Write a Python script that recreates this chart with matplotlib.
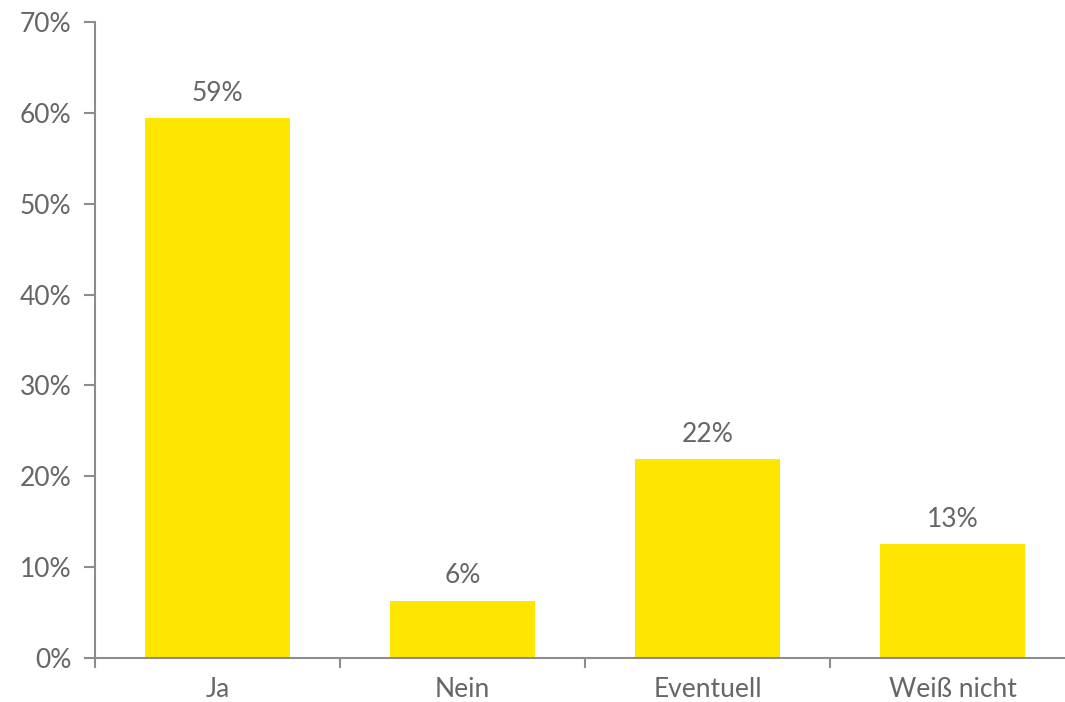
import matplotlib.pyplot as plt
import numpy as np

categories = ["Ja", "Nein", "Eventuell", "Weiß nicht"]
values = [59.4, 6.3, 21.9, 12.5]
labels = ["59%", "6%", "22%", "13%"]

plt.rcParams['font.family'] = ['Lato', 'DejaVu Sans']

grey = "#666666"
axis_grey = "#8c8c8c"

fig = plt.figure(figsize=(10.65, 7.02), dpi=100)
ax = fig.add_axes([95 / 1065, 44 / 702, 980 / 1065, 636 / 702])

x = np.arange(len(categories))
ax.bar(x, values, width=0.59, color="#FFE600")

for xi, v, lab in zip(x, values, labels):
    ax.annotate(lab, (xi, v), xytext=(0, 9), textcoords="offset points",
                ha="center", va="bottom", fontsize=19, color=grey)

ax.set_xlim(-0.5, 3.5)
ax.set_ylim(0, 70)
ax.set_yticks(range(0, 71, 10))
ax.set_yticklabels([f"{t}%" for t in range(0, 71, 10)])
ax.set_xticks(x)
ax.set_xticklabels(categories)
ax.set_xticks(np.arange(-0.5, 3.6, 1), minor=True)

ax.tick_params(axis="x", which="major", length=0, pad=14, labelsize=19, labelcolor=grey)
ax.tick_params(axis="x", which="minor", length=7, width=1.5, color=axis_grey, direction="out")
ax.tick_params(axis="y", length=8, width=1.5, color=axis_grey, pad=9, labelsize=19, labelcolor=grey)

for s in ["top", "right"]:
    ax.spines[s].set_visible(False)
for s in ["left", "bottom"]:
    ax.spines[s].set_color(axis_grey)
    ax.spines[s].set_linewidth(1.5)

fig.savefig("out.png", dpi=100)
